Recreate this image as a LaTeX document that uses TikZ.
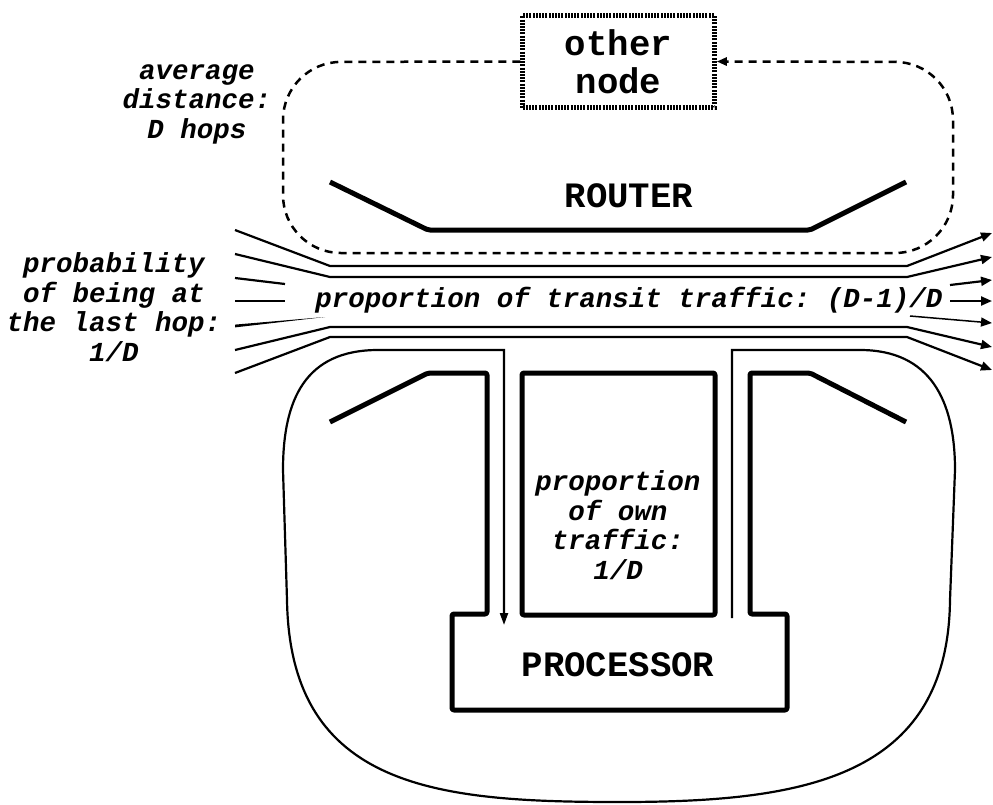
\documentclass[tikz,border=0pt]{standalone}
\usepackage{fontspec}
\setmonofont{Liberation Mono}
\usetikzlibrary{arrows.meta}

\begin{document}
\begin{tikzpicture}[x=1pt, y=-1pt,
        wall/.style={line width=5pt, line join=round, rounded corners=2pt},
        thin/.style={line width=2.2pt},
        tip/.style={-{Triangle[length=11pt, width=9pt]}},
        hop/.style={line width=2.5pt, dash pattern=on 8pt off 6pt, rounded corners=58pt},
        big/.style={font=\ttfamily\bfseries\fontsize{35.7}{38}\selectfont, align=center},
        note/.style={font=\ttfamily\bfseries\itshape\fontsize{27.5}{29.5}\selectfont, align=center}]
      \useasboundingbox (0,0) rectangle (993,804);

      % the other node and the way there and back
      \node[big, draw, line width=4.5pt, dash pattern=on 2pt off 1.2pt,
        minimum width=192pt, minimum height=92pt] (other) at (618.5,61.5) {other\\node};
      \draw[hop, -{Triangle[length=10pt, width=8pt]}] (other.west) -- (283,62) -- (283,253)
        -- (953,253) -- (953,62) -- (other.east);
      \node[note] (dist) at (197,104) {average\\distance:\\D hops};

      % router
      \node[big] (router) at (629,196) {ROUTER};
      \draw[wall] (330,182) -- (428,230) -- (810,230) -- (906,182);

      % transit channel
      \coordinate (w1) at (235,230); \coordinate (e1) at (992,233);
      \coordinate (w2) at (235,254); \coordinate (e2) at (992,257);
      \coordinate (w3) at (235,278); \coordinate (e3) at (992,280);
      \coordinate (w4) at (235,301); \coordinate (e4) at (992,301);
      \coordinate (w5) at (235,326); \coordinate (e5) at (992,323);
      \coordinate (w6) at (235,350); \coordinate (e6) at (992,347);
      \coordinate (w7) at (235,373); \coordinate (e7) at (992,370);
      \draw[thin, tip] (w1) -- (330,266) -- (907,266) -- (e1);
      \draw[thin, tip] (w2) -- (330,277) -- (907,277) -- (e2);
      \draw[thin] (w3) -- (285,284);
      \draw[thin, tip] (950,285) -- (e3);
      \draw[thin] (w4) -- (285,301);
      \draw[thin, tip] (950,301) -- (e4);
      \fill (w5) ++(0,-1.4) -- ++(0,2.8) -- (325,317) -- cycle;
      \draw[line width=1.5pt, tip] (910,316) -- (e5);
      \draw[thin, tip] (w6) -- (330,327) -- (907,327) -- (e6);
      \draw[thin, tip] (w7) -- (330,337) -- (907,337) -- (e7);
      \node[note] (transit) at (629,300) {proportion of transit traffic: (D-1)/D};
      \node[note] (prob) at (114,307) {probability\\of being at\\the last hop:\\1/D};

      % processor and its own traffic
      \draw[wall] (330,422) -- (428,373) -- (487,373) -- (487,614) -- (452,614) -- (452,710)
        -- (787,710) -- (787,614) -- (750,614) -- (750,373) -- (810,373) -- (906,422);
      \draw[wall] (522,373) rectangle (715,615);
      \node[note] (own) at (618,525) {proportion\\of own\\traffic:\\1/D};
      \node[big] (proc) at (618,665) {PROCESSOR};

      % outline of the node, entered on the left
      \coordinate (up) at (732,618);
      \coordinate (down) at (504,625);
      \draw[thin, -{Triangle[length=12pt, width=8pt]}] (up) -- (732,350) -- (860,350)
        .. controls (930,350) and (955,400) .. (955,470) -- (950,600)
        .. controls (948,780) and (800,802) .. (620,802)
        .. controls (440,802) and (290,790) .. (287,600) -- (283,470)
        .. controls (283,400) and (305,350) .. (378,350) -- (504,350) -- (down);
    \end{tikzpicture}
\end{document}
